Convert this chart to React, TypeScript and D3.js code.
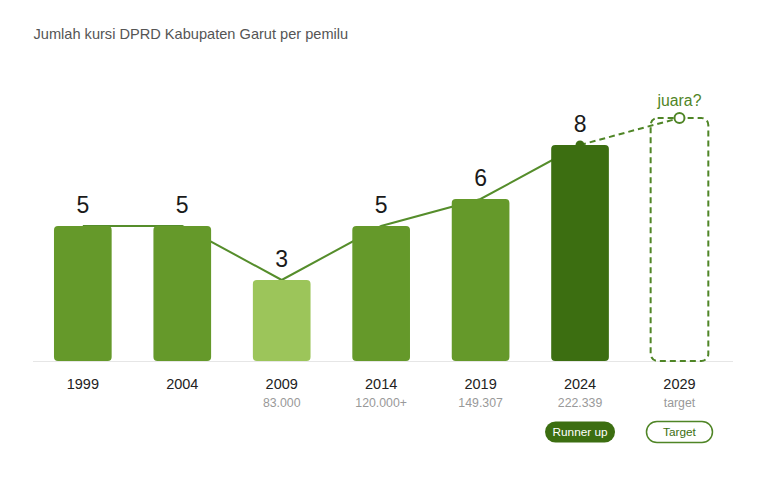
import React from "react";
import * as d3 from "d3";

const title = "Jumlah kursi DPRD Kabupaten Garut per pemilu";
const years = ["1999", "2004", "2009", "2014", "2019", "2024", "2029"];
const seats = [5, 5, 3, 5, 6, 8];
const targetSeats = 9;
const votes = ["", "", "83.000", "120.000+", "149.307", "222.339", "target"];
const barColors = ["#65992a", "#65992a", "#9cc55a", "#65992a", "#65992a", "#3c6e11"];
const targetLabel = "juara?";
const badges = [
  { year: "2024", text: "Runner up", filled: true },
  { year: "2029", text: "Target", filled: false },
];

const W = 768;
const H = 486;
const FONT = "'Liberation Sans', Arial, Helvetica, sans-serif";
const GREEN = "#4f8526";
const LINE = "#558d2b";

export default function App() {
  const x = d3
    .scaleBand<string>()
    .domain(years)
    .range([33.1, 729.2])
    .paddingInner(0.42)
    .paddingOuter(0.21);
  const y = d3.scaleLinear().domain([0, 9]).range([361, 118]);
  const bw = x.bandwidth();
  const cx = (yr: string) => (x(yr) as number) + bw / 2;

  const pts: [number, number][] = seats.map((v, i) => [cx(years[i]), y(v)]);
  const line = d3.line<[number, number]>()(pts) as string;
  const lastYear = years[seats.length - 1];
  const tYear = years[years.length - 1];
  const dashed = d3.line<[number, number]>()([
    [cx(lastYear), y(seats[seats.length - 1])],
    [cx(tYear), y(targetSeats)],
  ]) as string;

  return (
    <svg
      width={W}
      height={H}
      style={{ position: "absolute", left: 0, top: 0, background: "#fff" }}
      fontFamily={FONT}
    >
      <text x={33.5} y={39} fontSize={14.6} fill="#555">
        {title}
      </text>

      <line x1={33} x2={733} y1={y(0) + 0.5} y2={y(0) + 0.5} stroke="#e6e6e6" strokeWidth={1} />

      <path d={line} fill="none" stroke={LINE} strokeWidth={2} />
      <path d={dashed} fill="none" stroke={GREEN} strokeWidth={2} strokeDasharray="6,4" />
      <circle cx={cx(lastYear)} cy={y(seats[seats.length - 1])} r={4.5} fill="#3c6e11" />

      {seats.map((v, i) => (
        <rect
          key={years[i]}
          x={x(years[i])}
          y={y(v)}
          width={bw}
          height={y(0) - y(v)}
          rx={4}
          fill={barColors[i]}
        />
      ))}

      <rect
        x={(x(tYear) as number)}
        y={y(targetSeats)}
        width={bw}
        height={y(0) - y(targetSeats)}
        rx={7}
        fill="none"
        stroke={GREEN}
        strokeWidth={2}
        strokeDasharray="6,4"
      />
      <circle cx={cx(tYear)} cy={y(targetSeats)} r={5} fill="#fff" stroke={GREEN} strokeWidth={2} />
      <text x={cx(tYear)} y={y(targetSeats) - 12} fontSize={15.8} fill={GREEN} textAnchor="middle">
        {targetLabel}
      </text>

      {seats.map((v, i) => (
        <text
          key={"v" + years[i]}
          x={cx(years[i])}
          y={y(v) - 13}
          fontSize={23}
          fill="#1a1a1a"
          textAnchor="middle"
        >
          {v}
        </text>
      ))}

      {years.map((yr, i) => (
        <g key={"l" + yr}>
          <text x={cx(yr)} y={389} fontSize={14.5} fill="#222" textAnchor="middle">
            {yr}
          </text>
          {votes[i] && (
            <text x={cx(yr)} y={406.5} fontSize={12.3} fill="#999" textAnchor="middle">
              {votes[i]}
            </text>
          )}
        </g>
      ))}

      {badges.map((b) => {
        const w = b.filled ? 70 : 66;
        return (
          <g key={b.text}>
            <rect
              x={cx(b.year) - w / 2}
              y={421.5}
              width={w}
              height={21}
              rx={10.5}
              fill={b.filled ? "#3c6e11" : "#fff"}
              stroke={b.filled ? "none" : GREEN}
              strokeWidth={1.5}
            />
            <text
              x={cx(b.year)}
              y={436}
              fontSize={11.8}
              fill={b.filled ? "#fff" : "#3c6e11"}
              textAnchor="middle"
            >
              {b.text}
            </text>
          </g>
        );
      })}
    </svg>
  );
}
